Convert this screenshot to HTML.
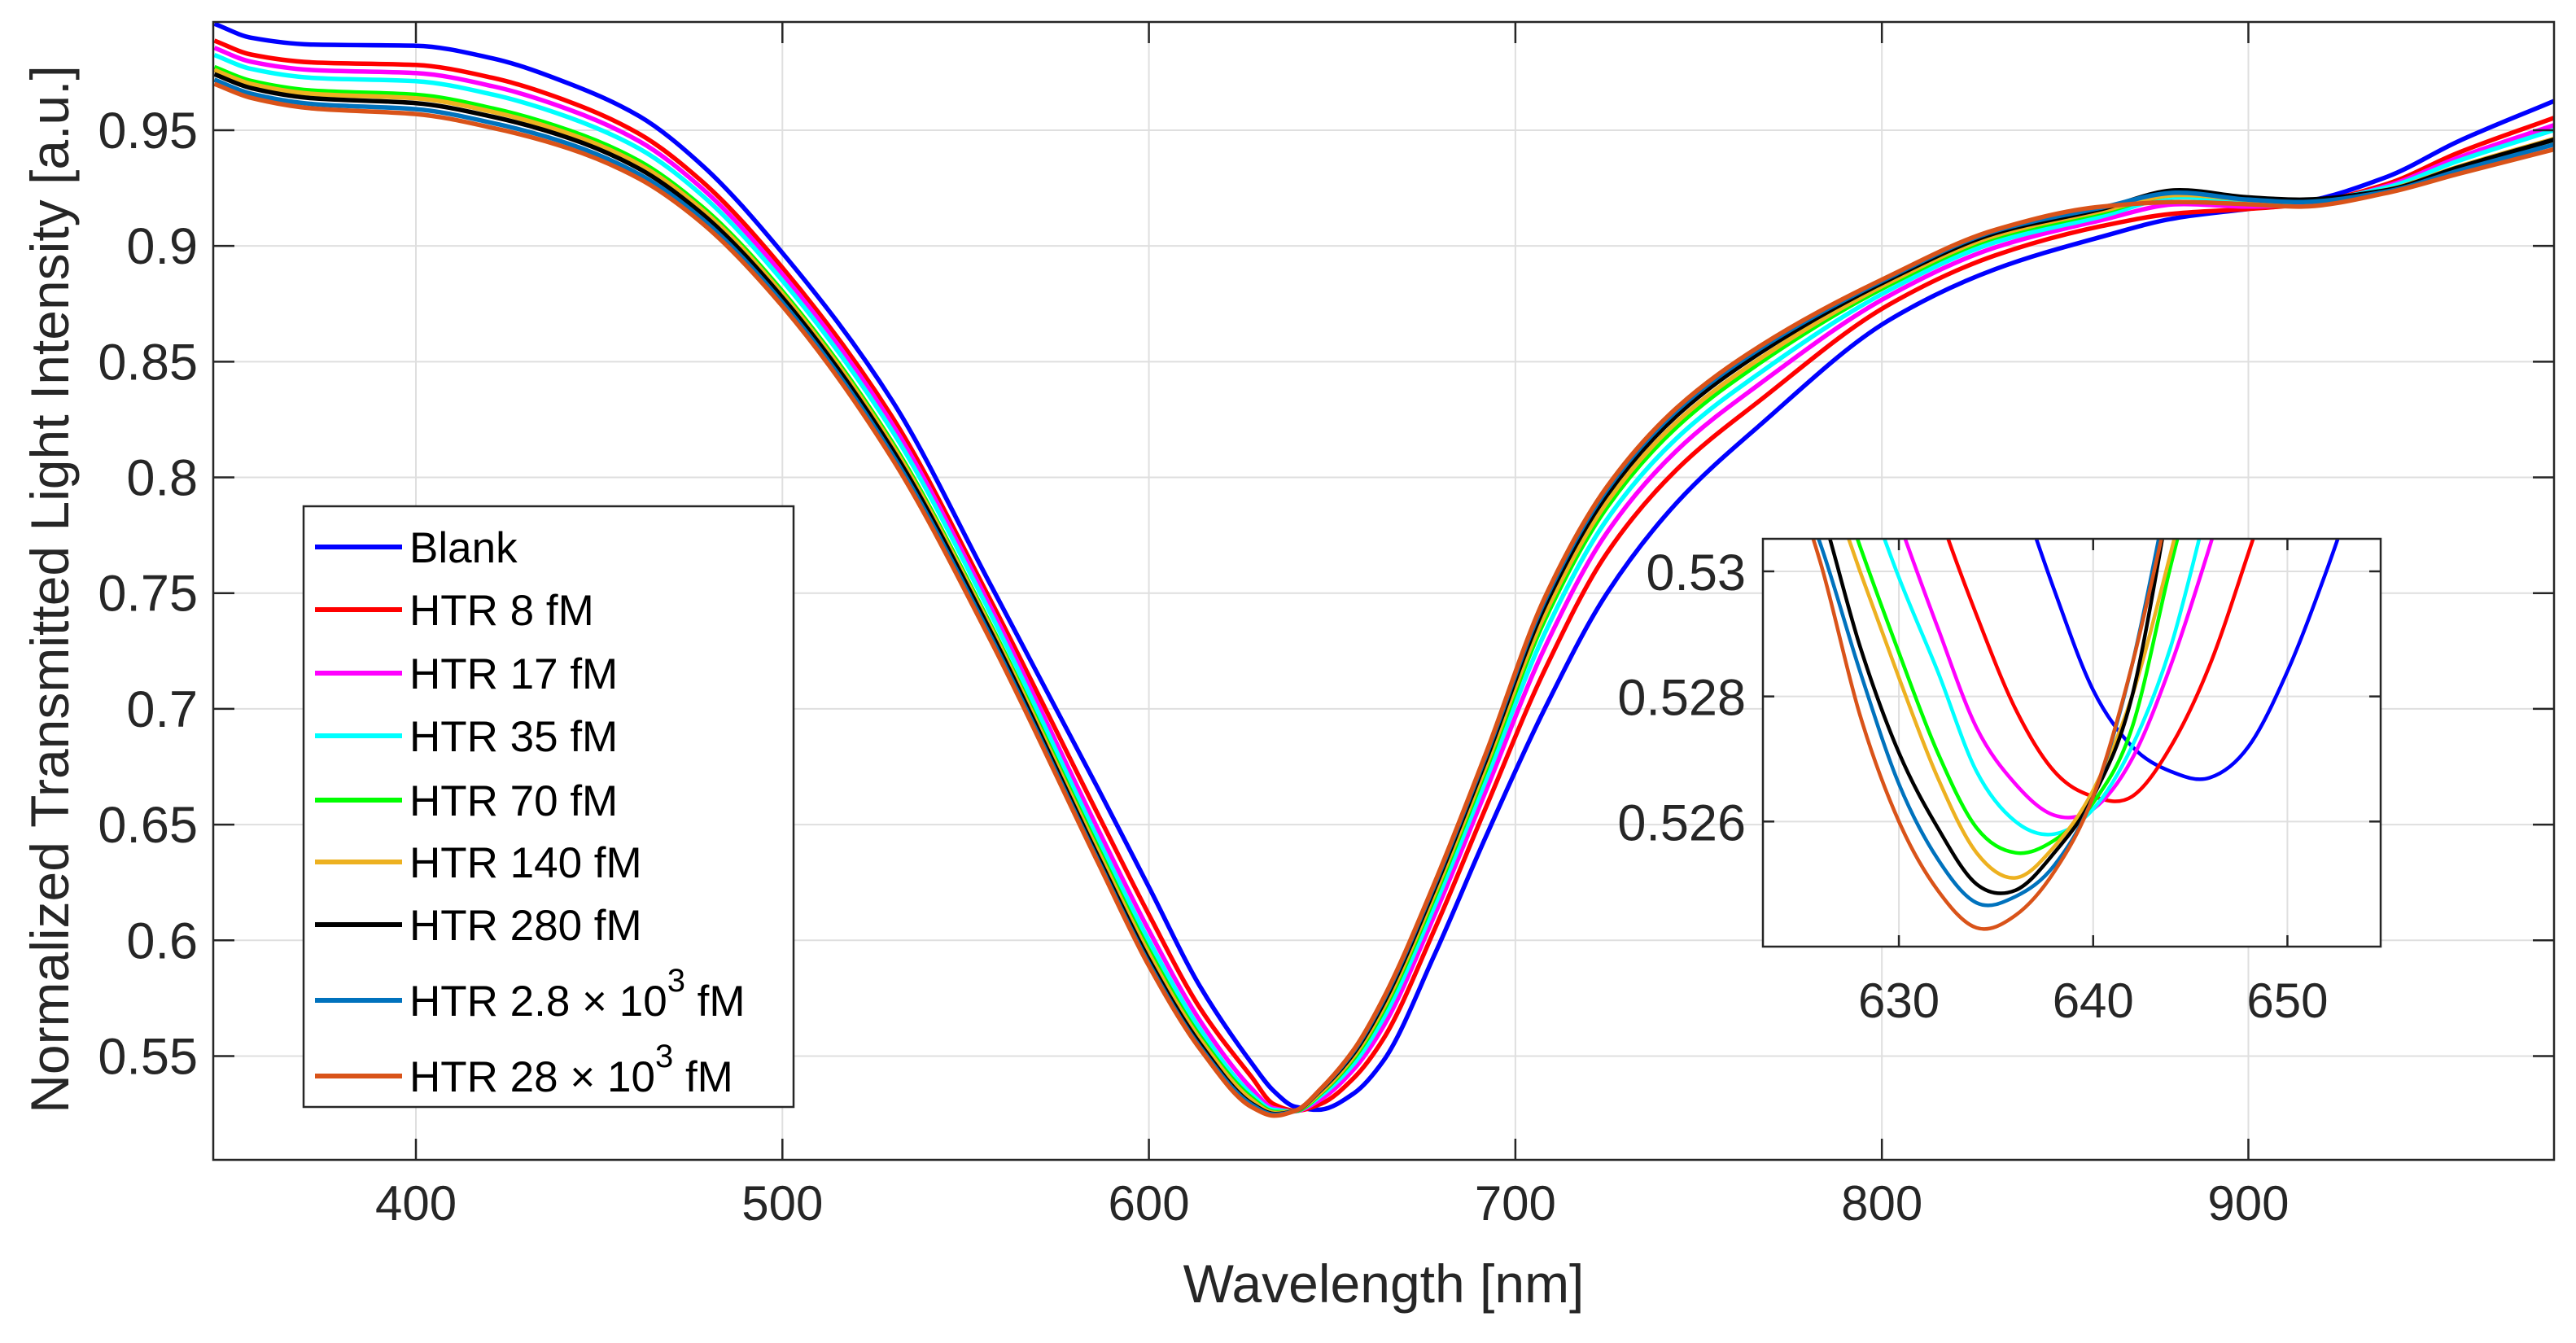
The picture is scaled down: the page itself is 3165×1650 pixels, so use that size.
<!DOCTYPE html>
<html><head><meta charset="utf-8"><style>
html,body{margin:0;padding:0;background:#fff;}
svg{display:block;font-family:"Liberation Sans",Arial,sans-serif;}
</style></head><body>
<svg id="chart" width="3165" height="1650" viewBox="0 0 3165 1650" xmlns="http://www.w3.org/2000/svg">
<rect x="0" y="0" width="3165" height="1650" fill="#fff"/>
<g id="main"></g>
<g id="inset"></g>
<g id="legend"></g>
</svg>
<script>
// ---- data ----
const seriesNames = ["Blank","HTR 8 fM","HTR 17 fM","HTR 35 fM","HTR 70 fM","HTR 140 fM","HTR 280 fM","HTR 2.8 × 10³ fM","HTR 28 × 10³ fM"];
const seriesColors = ["#0000ff","#ff0000","#ff00ff","#00ffff","#00ff00","#edb120","#000000","#0072bd","#d95319"];
const wavelengths = [345,355,372,400,421,442,461,478,500,530,557,586,600,614,628,634,640,647,656,664,678,692,708,725,744,767,802,831,860,880,900,915,938,957,984];
const blank   = [.996,.990,.987,.9865,.981,.970,.956,.935,.897,.833,.753,.666,.623,.580,.547,.535,.5281,.5269,.534,.548,.594,.645,.700,.750,.789,.823,.868,.890,.904,.912,.916,.919,.930,.945,.963];
const htr8    = [.9887,.9827,.9793,.9782,.9726,.9622,.9484,.9280,.8906,.8260,.7463,.6548,.6111,.5706,.541,.5293,.5264,.5294,.5407,.5575,.6049,.6576,.7168,.7674,.8034,.8336,.8747,.8960,.9086,.914,.916,.918,.9269,.9401,.9557];
const htr17   = [.9856,.9796,.9760,.9747,.9690,.9588,.9452,.9250,.8878,.8230,.7434,.6484,.6043,.5652,.536,.5275,.5262,.5314,.5445,.5629,.6111,.6648,.7264,.7762,.8116,.8408,.8785,.8994,.9112,.918,.917,.918,.926,.938,.9525];
const htr35   = [.9825,.9765,.9726,.9712,.9654,.9554,.9420,.9220,.8850,.8200,.7405,.6442,.5999,.5616,.5335,.5268,.5262,.533,.5469,.5664,.6151,.6695,.7326,.7819,.8169,.8455,.8809,.9016,.9128,.921,.919,.919,.9254,.9366,.9504];
const htr70   = [.9773,.9713,.9671,.9653,.9594,.9498,.9366,.9170,.8804,.8150,.7357,.6404,.5958,.5584,.532,.5259,.5263,.534,.5492,.5696,.6188,.6738,.7384,.7872,.8218,.8498,.8832,.9036,.9144,.922,.920,.919,.9242,.9338,.9462];
const htr140  = [.9760,.9700,.9657,.9638,.9579,.9484,.9352,.9158,.8793,.8138,.7345,.6388,.5941,.5571,.531,.5255,.5265,.5345,.5502,.5710,.6204,.6756,.7408,.7894,.8239,.8516,.8842,.9045,.9151,.922,.920,.919,.9243,.9341,.9466];
const htr280  = [.9742,.9682,.9638,.9617,.9558,.9465,.9333,.9140,.8777,.8120,.7328,.6366,.5917,.5552,.5295,.5250,.5264,.5355,.5515,.5728,.6225,.6781,.7442,.7925,.8267,.8541,.8855,.9056,.9160,.924,.921,.920,.9242,.9338,.9462];
const htr2800 = [.9718,.9658,.9613,.9591,.9531,.9440,.9309,.9118,.8756,.8098,.7307,.6350,.5900,.5538,.529,.5247,.5264,.5358,.5524,.5742,.6241,.6799,.7466,.7947,.8288,.8559,.8864,.9065,.9166,.923,.920,.919,.9236,.9324,.9441];
const htr28000= [.970,.964,.9594,.957,.951,.942,.929,.910,.874,.808,.729,.634,.589,.553,.528,.5243,.5264,.536,.553,.575,.625,.681,.748,.796,.830,.857,.887,.907,.917,.919,.918,.917,.923,.931,.942];
const mainSeries = [blank,htr8,htr17,htr35,htr70,htr140,htr280,htr2800,htr28000];

const insetWavelengths = [624,626,628,630,632,634,636,638,640,642,644,646,648,650,652,654,656];
const insetBlank   = [null,null,null,null,null,null,.5315,.5297,.5281,.5272,.5268,.5267,.5272,.5284,.5300,.5318,null];
const insetHtr8    = [null,null,null,.5330,.5310,.5293,.5278,.5268,.5264,.5264,.5272,.5285,.5303,.5322,null,null,null];
const insetHtr17   = [null,null,.5326,.5308,.5291,.5275,.5266,.5261,.5262,.5270,.5285,.5304,.5325,null,null,null,null];
const insetHtr35   = [null,null,.5316,.5299,.5284,.5268,.5260,.5258,.5262,.5272,.5288,.5312,null,null,null,null,null];
const insetHtr70   = [null,.5322,.5304,.5287,.5271,.5259,.5255,.5257,.5263,.5275,.5301,.5325,null,null,null,null,null];
const insetHtr140  = [null,.5318,.5300,.5283,.5267,.5255,.5251,.5256,.5265,.5280,.5303,.5328,null,null,null,null,null];
const insetHtr280  = [.5328,.5310,.5288,.5271,.5259,.5250,.5249,.5255,.5264,.5280,.5313,null,null,null,null,null,null];
const insetHtr2800 = [.5320,.5304,.5284,.5266,.5254,.5247,.5248,.5253,.5264,.5285,.5315,null,null,null,null,null,null];
const insetHtr28000= [.5320,.5301,.5277,.5260,.5249,.5243,.5245,.5252,.5264,.5285,.5312,null,null,null,null,null,null];
const insetSeries = [insetBlank,insetHtr8,insetHtr17,insetHtr35,insetHtr70,insetHtr140,insetHtr280,insetHtr2800,insetHtr28000];

const xTicks = [400,500,600,700,800,900];
const yTicks = [0.55,0.6,0.65,0.7,0.75,0.8,0.85,0.9,0.95];
const yTickLabels = ["0.55","0.6","0.65","0.7","0.75","0.8","0.85","0.9","0.95"];
const insetXTicks = [630,640,650];
const insetYTicks = [0.526,0.528,0.53];
const insetYTickLabels = ["0.526","0.528","0.53"];

// ---- layout ----
const NS="http://www.w3.org/2000/svg";
const P={l:262,r:3138,t:27,b:1425};
const xDom=[344.7,983.4], yDom=[0.50516,0.99677];
const I={l:2166,r:2925,t:662,b:1163};
const ixDom=[623.0,654.8], iyDom=[0.5240,0.53052];
const X=v=>P.l+(v-xDom[0])/(xDom[1]-xDom[0])*(P.r-P.l);
const Y=v=>P.b-(v-yDom[0])/(yDom[1]-yDom[0])*(P.b-P.t);
const IX=v=>I.l+(v-ixDom[0])/(ixDom[1]-ixDom[0])*(I.r-I.l);
const IY=v=>I.b-(v-iyDom[0])/(iyDom[1]-iyDom[0])*(I.b-I.t);

function mk(tag,attrs,parent,text){const e=document.createElementNS(NS,tag);for(const k in attrs)e.setAttribute(k,attrs[k]);if(text!==undefined)e.textContent=text;parent.appendChild(e);return e;}
function monotone(pts){
  const n=pts.length; if(n<2)return "";
  const dx=[],m=[];
  for(let i=0;i<n-1;i++){dx.push(pts[i+1][0]-pts[i][0]);m.push((pts[i+1][1]-pts[i][1])/dx[i]);}
  const t=new Array(n);
  t[0]=m[0]; t[n-1]=m[n-2];
  for(let i=1;i<n-1;i++){
    if(m[i-1]*m[i]<=0)t[i]=(m[i-1]+m[i])/2*0.5;
    else{const w1=2*dx[i]+dx[i-1],w2=dx[i]+2*dx[i-1];t[i]=(w1+w2)/(w1/m[i-1]+w2/m[i]);}
  }
  let d="M"+pts[0][0].toFixed(1)+","+pts[0][1].toFixed(1);
  for(let i=0;i<n-1;i++){
    const h=dx[i]/3;
    d+="C"+(pts[i][0]+h).toFixed(1)+","+(pts[i][1]+t[i]*h).toFixed(1)+" "+(pts[i+1][0]-h).toFixed(1)+","+(pts[i+1][1]-t[i+1]*h).toFixed(1)+" "+pts[i+1][0].toFixed(1)+","+pts[i+1][1].toFixed(1);
  }
  return d;
}
function catmull(pts){
  if(pts.length<2)return "";
  let d="M"+pts[0][0].toFixed(1)+","+pts[0][1].toFixed(1);
  for(let i=0;i<pts.length-1;i++){
    const p0=pts[Math.max(i-1,0)],p1=pts[i],p2=pts[i+1],p3=pts[Math.min(i+2,pts.length-1)];
    d+="C"+(p1[0]+(p2[0]-p0[0])/6).toFixed(1)+","+(p1[1]+(p2[1]-p0[1])/6).toFixed(1)+" "+(p2[0]-(p3[0]-p1[0])/6).toFixed(1)+","+(p2[1]-(p3[1]-p1[1])/6).toFixed(1)+" "+p2[0].toFixed(1)+","+p2[1].toFixed(1);
  }
  return d;
}
const svg=document.getElementById('chart');
const defs=mk('defs',{},svg);
const cp=mk('clipPath',{id:'mainClip'},defs); mk('rect',{x:P.l,y:P.t,width:P.r-P.l,height:P.b-P.t},cp);
const cp2=mk('clipPath',{id:'insetClip'},defs); mk('rect',{x:I.l,y:I.t,width:I.r-I.l,height:I.b-I.t},cp2);

const main=document.getElementById('main');
const grid=mk('g',{},main);


xTicks.forEach(t=>{mk('line',{x1:X(t),x2:X(t),y1:P.t,y2:P.b,stroke:'#dfdfdf','stroke-width':2},grid);});
yTicks.forEach(t=>{mk('line',{x1:P.l,x2:P.r,y1:Y(t),y2:Y(t),stroke:'#dfdfdf','stroke-width':2},grid);});
const lines=mk('g',{'clip-path':'url(#mainClip)'},main);
mainSeries.forEach((s,i)=>{
  const pts=wavelengths.map((w,j)=>[X(w),Y(s[j])]);
  const p=mk('path',{d:monotone(pts),fill:'none',stroke:seriesColors[i],'stroke-width':5.5,'stroke-linejoin':'round'},lines);
  
  
});
const ax=mk('g',{},main);


mk('rect',{x:P.l,y:P.t,width:P.r-P.l,height:P.b-P.t,fill:'none',stroke:'#262626','stroke-width':2.5},ax);
xTicks.forEach(t=>{
  mk('line',{x1:X(t),x2:X(t),y1:P.b,y2:P.b-26,stroke:'#262626','stroke-width':2.5},ax);
  mk('line',{x1:X(t),x2:X(t),y1:P.t,y2:P.t+26,stroke:'#262626','stroke-width':2.5},ax);
  const tx=mk('text',{x:X(t),y:1499,'font-size':60,'text-anchor':'middle',fill:'#262626'},ax,String(t));
  
  
});
yTicks.forEach((t,i)=>{
  mk('line',{x1:P.l,x2:P.l+26,y1:Y(t),y2:Y(t),stroke:'#262626','stroke-width':2.5},ax);
  mk('line',{x1:P.r,x2:P.r-26,y1:Y(t),y2:Y(t),stroke:'#262626','stroke-width':2.5},ax);
  const tx=mk('text',{x:243,y:Y(t)+22,'font-size':63,'text-anchor':'end',fill:'#262626'},ax,yTickLabels[i]);
  
  
});
const xt=mk('text',{x:1700,y:1600,'font-size':66,'text-anchor':'middle',fill:'#262626'},main,'Wavelength [nm]');


const yt=mk('text',{x:0,y:0,'font-size':66,'text-anchor':'middle',fill:'#262626',transform:'translate(84,724) rotate(-90)'},main,'Normalized Transmitted Light Intensity [a.u.]');



const inset=document.getElementById('inset');


mk('rect',{x:I.l,y:I.t,width:I.r-I.l,height:I.b-I.t,fill:'#fff'},inset);
insetXTicks.forEach(t=>mk('line',{x1:IX(t),x2:IX(t),y1:I.t,y2:I.b,stroke:'#dfdfdf','stroke-width':2},inset));
insetYTicks.forEach(t=>mk('line',{x1:I.l,x2:I.r,y1:IY(t),y2:IY(t),stroke:'#dfdfdf','stroke-width':2},inset));
const il=mk('g',{'clip-path':'url(#insetClip)'},inset);
insetSeries.forEach((s,i)=>{
  const pts=[];insetWavelengths.forEach((w,j)=>{if(s[j]!==null)pts.push([IX(w),IY(s[j])]);});
  const p=mk('path',{d:catmull(pts),fill:'none',stroke:seriesColors[i],'stroke-width':4.5,'stroke-linejoin':'round'},il);
  
  
});
mk('rect',{x:I.l,y:I.t,width:I.r-I.l,height:I.b-I.t,fill:'none',stroke:'#262626','stroke-width':2.5},inset);
insetXTicks.forEach(t=>{
  mk('line',{x1:IX(t),x2:IX(t),y1:I.b,y2:I.b-14,stroke:'#262626','stroke-width':2.5},inset);
  mk('line',{x1:IX(t),x2:IX(t),y1:I.t,y2:I.t+14,stroke:'#262626','stroke-width':2.5},inset);
  const tx=mk('text',{x:IX(t),y:1250,'font-size':60,'text-anchor':'middle',fill:'#262626'},inset,String(t));
  
  
});
insetYTicks.forEach((t,i)=>{
  mk('line',{x1:I.l,x2:I.l+14,y1:IY(t),y2:IY(t),stroke:'#262626','stroke-width':2.5},inset);
  mk('line',{x1:I.r,x2:I.r-14,y1:IY(t),y2:IY(t),stroke:'#262626','stroke-width':2.5},inset);
  const tx=mk('text',{x:2145,y:IY(t)+23,'font-size':63,'text-anchor':'end',fill:'#262626'},inset,insetYTickLabels[i]);
  
  
});

const lg=document.getElementById('legend');


mk('rect',{x:373,y:622,width:602,height:738,fill:'#fff',stroke:'#262626','stroke-width':2.5},lg);
const legendY=[672,749,827,904,983,1059,1136,1229,1322];
const legendBase=["Blank","HTR 8 fM","HTR 17 fM","HTR 35 fM","HTR 70 fM","HTR 140 fM","HTR 280 fM","HTR 2.8 × 10","HTR 28 × 10"];
seriesNames.forEach((n,i)=>{
  const g=mk('g',{},lg);
  
  
  mk('line',{x1:387,x2:494,y1:legendY[i],y2:legendY[i],stroke:seriesColors[i],'stroke-width':6},g);
  const t=mk('text',{x:503,y:legendY[i]+19,'font-size':53,fill:'#000'},g);
  if(i<7){t.textContent=legendBase[i];}
  else{
    mk('tspan',{},t,legendBase[i]);
    mk('tspan',{dy:-30,'font-size':40},t,'3');
    mk('tspan',{dy:30},t,' fM');
  }
});
</script>
</body></html>
